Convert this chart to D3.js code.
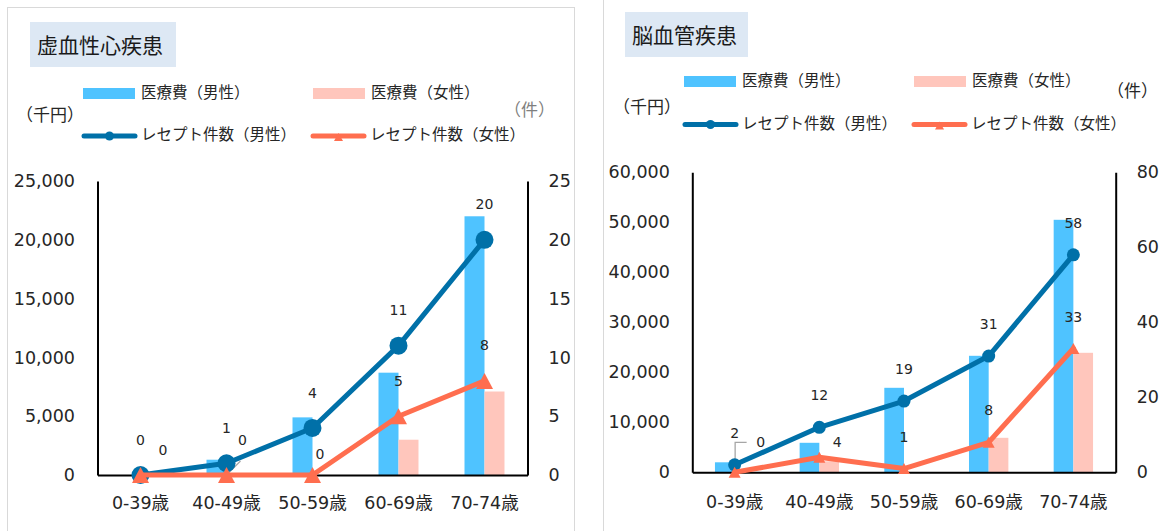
<!DOCTYPE html>
<html><head><meta charset="utf-8">
<script src="https://cdn.jsdelivr.net/npm/d3@7"></script>
<style>
html,body{margin:0;padding:0;background:#fff;}
svg{display:block;}
</style></head><body>
<svg id="chart" width="1164" height="531"></svg>
<script>
// ---------------- data ----------------
const categories = ["0-39歳", "40-49歳", "50-59歳", "60-69歳", "70-74歳"];

const heartTitle = "虚血性心疾患";
const heartCostMale   = [0, 1300, 4900, 8700, 22000];
const heartCostFemale = [0, 0, 0, 3000, 7100];
const heartCountMale   = [0, 1, 4, 11, 20];
const heartCountFemale = [0, 0, 0, 5, 8];
const heartCostTicks  = [0, 5000, 10000, 15000, 20000, 25000];
const heartCountTicks = [0, 5, 10, 15, 20, 25];

const brainTitle = "脳血管疾患";
const brainCostMale   = [2000, 5900, 16900, 23300, 50500];
const brainCostFemale = [0, 2200, 0, 6900, 23900];
const brainCountMale   = [2, 12, 19, 31, 58];
const brainCountFemale = [0, 4, 1, 8, 33];
const brainCostTicks  = [0, 10000, 20000, 30000, 40000, 50000, 60000];
const brainCountTicks = [0, 20, 40, 60, 80];

const legendNames = ["医療費（男性）", "医療費（女性）", "レセプト件数（男性）", "レセプト件数（女性）"];
const unitCost = "（千円）";
const unitCount = "（件）";

// ---------------- styles ----------------
const C_BAR_M = "#4FC3FF", C_BAR_F = "#FFC6BC", C_LINE_M = "#0070A8", C_LINE_F = "#FF6E4F";
const JP = "'Noto Sans CJK JP', 'Noto Sans', sans-serif";
const NUM = "'DejaVu Sans', 'Noto Sans CJK JP', sans-serif";
const TXT = "#262626";

const svg = d3.select("#chart");

function drawChart(cfg) {
  const g = svg.append("g");
  // panel border
  g.append("rect").attr("x", cfg.panel[0]).attr("y", cfg.panel[1])
    .attr("width", cfg.panel[2]).attr("height", cfg.panel[3])
    .attr("fill", "none").attr("stroke", "#D9D9D9").attr("stroke-width", 1);
  // title
  g.append("rect").attr("x", cfg.title.x).attr("y", cfg.title.y)
    .attr("width", cfg.title.w).attr("height", cfg.title.h).attr("fill", "#DDE8F4");
  g.append("text").attr("x", cfg.title.tx).attr("y", cfg.title.ty)
    .attr("dominant-baseline", "central").attr("font-family", JP).attr("font-size", 21)
    .attr("fill", "#1a1a1a").text(cfg.name);

  // legend
  const L = cfg.legend;
  const barItems = [{x: L.mx, c: C_BAR_M, t: legendNames[0]}, {x: L.fx, c: C_BAR_F, t: legendNames[1]}];
  barItems.forEach(it => {
    g.append("rect").attr("x", it.x).attr("y", L.barY).attr("width", 52).attr("height", 11).attr("fill", it.c);
    g.append("text").attr("x", it.x + 58).attr("y", L.barTY).attr("dominant-baseline", "central")
      .attr("font-family", JP).attr("font-size", 15.5).attr("fill", TXT).text(it.t);
  });
  const lineItems = [{x: L.mx - 1, c: C_LINE_M, t: legendNames[2], m: "c"}, {x: L.fx - 2, c: C_LINE_F, t: legendNames[3], m: "t"}];
  lineItems.forEach(it => {
    g.append("line").attr("x1", it.x + 2).attr("x2", it.x + 53).attr("y1", L.lineY).attr("y2", L.lineY)
      .attr("stroke", it.c).attr("stroke-width", 5).attr("stroke-linecap", "round");
    if (it.m === "c") {
      g.append("circle").attr("cx", it.x + 27.5).attr("cy", L.lineY).attr("r", 4.5).attr("fill", it.c);
    } else {
      g.append("path").attr("transform", `translate(${it.x + 27.5},${L.lineY + 1})`)
        .attr("d", "M0,-4 L4.5,4 L-4.5,4 Z").attr("fill", it.c);
    }
    g.append("text").attr("x", it.x + 59).attr("y", L.lineTY).attr("dominant-baseline", "central")
      .attr("font-family", JP).attr("font-size", 15.5).attr("fill", TXT).text(it.t);
  });
  g.append("text").attr("x", cfg.unitL[0]).attr("y", cfg.unitL[1]).attr("dominant-baseline", "central")
    .attr("font-family", JP).attr("font-size", 17).attr("fill", TXT).text(unitCost);
  g.append("text").attr("x", cfg.unitR[0]).attr("y", cfg.unitR[1]).attr("dominant-baseline", "central")
    .attr("font-family", JP).attr("font-size", 17).attr("fill", cfg.unitR[2]).text(unitCount);

  // scales
  const P = cfg.plot;
  const x = d3.scaleBand().domain(categories).range([P.left, P.right]).padding(0);
  const yL = d3.scaleLinear().domain([0, d3.max(cfg.costTicks)]).range([P.bottom, P.top]);
  const yR = d3.scaleLinear().domain([0, d3.max(cfg.countTicks)]).range([P.bottom, P.top]);
  const bw = x.bandwidth() * 0.2325;
  const cx = c => x(c) + x.bandwidth() / 2;

  // bars
  g.append("g").selectAll("rect").data(categories).join("rect")
    .attr("x", c => cx(c) - bw).attr("width", bw)
    .attr("y", (c, i) => yL(cfg.costM[i])).attr("height", (c, i) => yL(0) - yL(cfg.costM[i]))
    .attr("fill", C_BAR_M);
  g.append("g").selectAll("rect").data(categories).join("rect")
    .attr("x", c => cx(c)).attr("width", bw)
    .attr("y", (c, i) => yL(cfg.costF[i])).attr("height", (c, i) => yL(0) - yL(cfg.costF[i]))
    .attr("fill", C_BAR_F);

  // axes
  const axL = g.append("g").attr("transform", `translate(${P.left},0)`)
    .call(d3.axisLeft(yL).tickValues(cfg.costTicks).tickSize(0).tickPadding(22.5).tickFormat(d3.format(",")));
  const axR = g.append("g").attr("transform", `translate(${P.right},0)`)
    .call(d3.axisRight(yR).tickValues(cfg.countTicks).tickSize(0).tickPadding(21).tickFormat(d3.format("d")));
  const axB = g.append("g").attr("transform", `translate(0,${P.bottom})`)
    .call(d3.axisBottom(x).tickSize(0).tickPadding(cfg.catPad));
  [axL, axR, axB].forEach(a => {
    a.select(".domain").attr("stroke", "#000").attr("stroke-width", 2);
    a.selectAll("text").attr("font-family", NUM).attr("font-size", 17.5).attr("fill", TXT);
  });

  // leader lines
  cfg.leaders.forEach(ld => {
    const px = cx(categories[ld.i]), py = yR(ld.vals[ld.i]);
    g.append("polyline").attr("points", ld.pts.map(p => [px + p[0], py + p[1]].join(",")).join(" "))
      .attr("fill", "none").attr("stroke", "#A6A6A6").attr("stroke-width", 1.3);
  });

  // lines
  const line = vals => d3.line().x((c) => cx(c)).y((c, i) => yR(vals[i]))(categories);
  g.append("path").attr("d", line(cfg.cntM)).attr("fill", "none").attr("stroke", C_LINE_M)
    .attr("stroke-width", 5).attr("stroke-linejoin", "round").attr("stroke-linecap", "round");
  g.append("g").selectAll("circle").data(categories).join("circle")
    .attr("cx", c => cx(c)).attr("cy", (c, i) => yR(cfg.cntM[i])).attr("r", cfg.circleR).attr("fill", C_LINE_M);
  g.append("path").attr("d", line(cfg.cntF)).attr("fill", "none").attr("stroke", C_LINE_F)
    .attr("stroke-width", 5).attr("stroke-linejoin", "round").attr("stroke-linecap", "round");
  const tw = cfg.tri[0] / 2, th = cfg.tri[1] / 2;
  g.append("g").selectAll("path").data(categories).join("path")
    .attr("transform", (c, i) => `translate(${cx(c)},${yR(cfg.cntF[i])})`)
    .attr("d", `M0,${-th} L${tw},${th} L${-tw},${th} Z`).attr("fill", C_LINE_F);

  // data labels
  const lab = (vals, shifts) => g.append("g").selectAll("text").data(categories).join("text")
    .attr("x", (c, i) => cx(c) + shifts[i][0])
    .attr("y", (c, i) => yR(vals[i]) - cfg.labOff + shifts[i][1])
    .attr("dy", "0.36em").attr("text-anchor", "middle")
    .attr("font-family", NUM).attr("font-size", 14).attr("fill", TXT)
    .text((c, i) => vals[i]);
  lab(cfg.cntM, cfg.shiftM);
  lab(cfg.cntF, cfg.shiftF);
}

drawChart({
  name: heartTitle,
  panel: [7.5, 7.5, 567, 560],
  title: {x: 30, y: 22, w: 146, h: 45, tx: 37, ty: 44},
  legend: {mx: 83, fx: 313, barY: 88, barTY: 91, lineY: 136, lineTY: 133},
  unitL: [16, 113], unitR: [504, 108, "#7F7F7F"],
  plot: {left: 97.5, right: 527.5, top: 181, bottom: 475},
  catPad: 22,
  costM: heartCostMale, costF: heartCostFemale, cntM: heartCountMale, cntF: heartCountFemale,
  costTicks: heartCostTicks, countTicks: heartCountTicks,
  circleR: 9, tri: [17, 16], labOff: 35.5,
  shiftM: [[0, 0], [0, 0], [0, 0], [0, 0], [0, 0]],
  shiftF: [[22.5, 10.5], [16, 0], [7.5, 14.5], [0, 0], [0, 0]],
  leaders: [{i: 1, vals: heartCountFemale, pts: [[2, -2], [14, -14]]}]
});

drawChart({
  name: brainTitle,
  panel: [603.5, -10, 600, 560],
  title: {x: 625, y: 12, w: 123, h: 45, tx: 632, ty: 34},
  legend: {mx: 684, fx: 914, barY: 76, barTY: 78.5, lineY: 124.5, lineTY: 121.5},
  unitL: [613, 105], unitR: [1107, 89, TXT],
  plot: {left: 692.3, right: 1115.7, top: 172.3, bottom: 472.3},
  catPad: 23.5,
  costM: brainCostMale, costF: brainCostFemale, cntM: brainCountMale, cntF: brainCountFemale,
  costTicks: brainCostTicks, countTicks: brainCountTicks,
  circleR: 6.5, tri: [12, 11], labOff: 32,
  shiftM: [[0, 0], [0, 0], [0, 0], [0, 0], [0, 0]],
  shiftF: [[26, 2], [18, 17], [0, 0], [0, 0], [0, 0]],
  leaders: [{i: 0, vals: brainCountFemale, pts: [[0.5, -6], [0.5, -30], [12, -30]]}]
});
</script>
</body></html>
